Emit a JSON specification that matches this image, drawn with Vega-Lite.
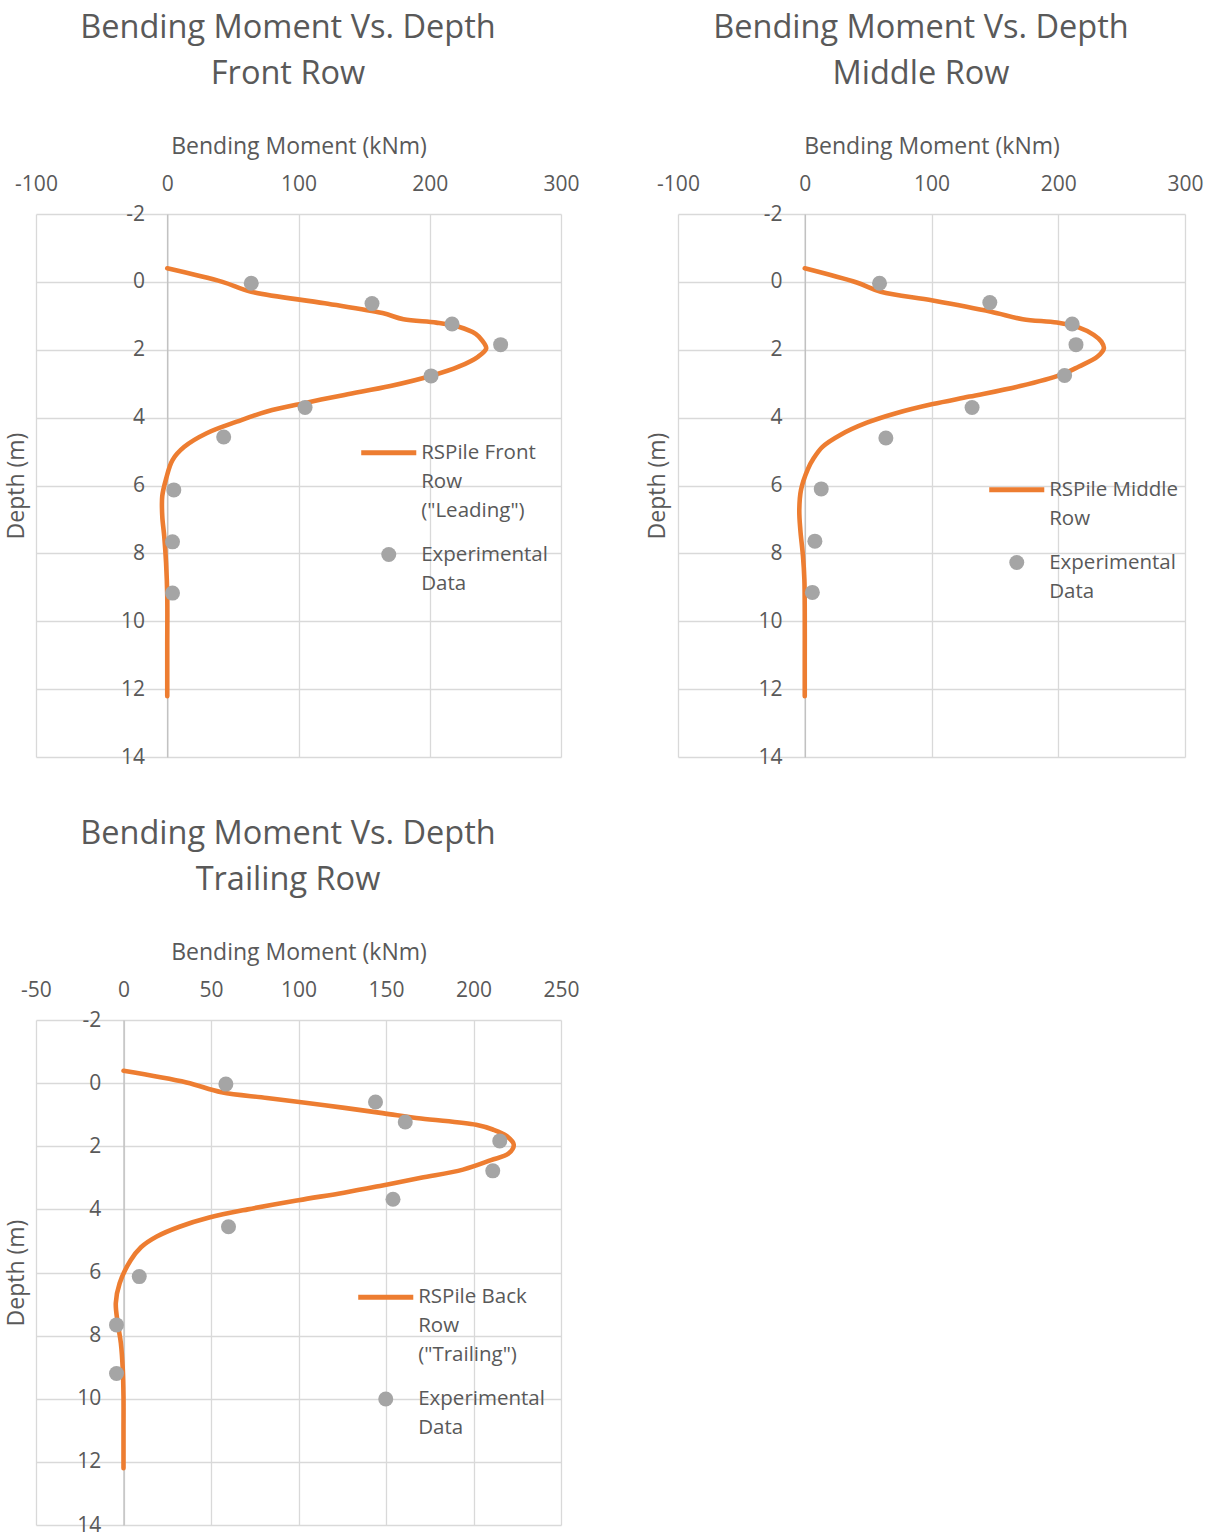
{
  "$schema": "https://vega.github.io/schema/vega-lite/v6.json",
  "background": "white",
  "padding": {"left": 5, "top": 11, "right": 0, "bottom": 0},
  "config": {
    "font": "Open Sans",
    "view": {"stroke": null},
    "axis": {
      "labelColor": "#595959",
      "titleColor": "#595959",
      "labelFontSize": 21,
      "titleFontSize": 23,
      "titleFontWeight": "normal",
      "gridColor": "#d9d9d9",
      "gridWidth": 1.3,
      "ticks": false,
      "tickSize": 0,
      "labelFlush": false,
      "labelOverlap": false,
      "labelExpr": "replace(datum.label, '\u2212', '-')"
    },
    "legend": {
      "labelColor": "#595959",
      "labelFontSize": 20.5,
      "padding": 0,
      "symbolOpacity": 1,
      "symbolStrokeWidth": 0,
      "symbolSize": 225
    },
    "title": {"color": "#595959", "fontSize": 32.5, "fontWeight": "normal", "lineHeight": 46}
  },
  "data": {
    "values": [
      {"row": "Front", "series": "RSPile Front Row (\"Leading\")", "depth": -0.4, "moment": 0},
      {"row": "Front", "series": "RSPile Front Row (\"Leading\")", "depth": 0.0, "moment": 42},
      {"row": "Front", "series": "RSPile Front Row (\"Leading\")", "depth": 0.29, "moment": 64},
      {"row": "Front", "series": "RSPile Front Row (\"Leading\")", "depth": 0.63, "moment": 120},
      {"row": "Front", "series": "RSPile Front Row (\"Leading\")", "depth": 0.92, "moment": 164},
      {"row": "Front", "series": "RSPile Front Row (\"Leading\")", "depth": 1.1, "moment": 180},
      {"row": "Front", "series": "RSPile Front Row (\"Leading\")", "depth": 1.2, "moment": 205},
      {"row": "Front", "series": "RSPile Front Row (\"Leading\")", "depth": 1.32, "moment": 222},
      {"row": "Front", "series": "RSPile Front Row (\"Leading\")", "depth": 1.53, "moment": 235},
      {"row": "Front", "series": "RSPile Front Row (\"Leading\")", "depth": 1.73, "moment": 240},
      {"row": "Front", "series": "RSPile Front Row (\"Leading\")", "depth": 1.96, "moment": 243},
      {"row": "Front", "series": "RSPile Front Row (\"Leading\")", "depth": 2.2, "moment": 237},
      {"row": "Front", "series": "RSPile Front Row (\"Leading\")", "depth": 2.5, "moment": 222},
      {"row": "Front", "series": "RSPile Front Row (\"Leading\")", "depth": 2.76, "moment": 202},
      {"row": "Front", "series": "RSPile Front Row (\"Leading\")", "depth": 3.07, "moment": 170},
      {"row": "Front", "series": "RSPile Front Row (\"Leading\")", "depth": 3.33, "moment": 135},
      {"row": "Front", "series": "RSPile Front Row (\"Leading\")", "depth": 3.56, "moment": 106},
      {"row": "Front", "series": "RSPile Front Row (\"Leading\")", "depth": 3.82, "moment": 76},
      {"row": "Front", "series": "RSPile Front Row (\"Leading\")", "depth": 4.12, "moment": 53},
      {"row": "Front", "series": "RSPile Front Row (\"Leading\")", "depth": 4.46, "moment": 30},
      {"row": "Front", "series": "RSPile Front Row (\"Leading\")", "depth": 4.86, "moment": 13},
      {"row": "Front", "series": "RSPile Front Row (\"Leading\")", "depth": 5.25, "moment": 4},
      {"row": "Front", "series": "RSPile Front Row (\"Leading\")", "depth": 5.82, "moment": -1},
      {"row": "Front", "series": "RSPile Front Row (\"Leading\")", "depth": 6.31, "moment": -3.8},
      {"row": "Front", "series": "RSPile Front Row (\"Leading\")", "depth": 6.9, "moment": -3.8},
      {"row": "Front", "series": "RSPile Front Row (\"Leading\")", "depth": 7.5, "moment": -2.3},
      {"row": "Front", "series": "RSPile Front Row (\"Leading\")", "depth": 8.28, "moment": -0.9},
      {"row": "Front", "series": "RSPile Front Row (\"Leading\")", "depth": 9.26, "moment": 0},
      {"row": "Front", "series": "RSPile Front Row (\"Leading\")", "depth": 10.74, "moment": 0},
      {"row": "Front", "series": "RSPile Front Row (\"Leading\")", "depth": 12.21, "moment": 0},
      {"row": "Front", "series": "Experimental Data", "depth": 0.04, "moment": 64},
      {"row": "Front", "series": "Experimental Data", "depth": 0.64, "moment": 156},
      {"row": "Front", "series": "Experimental Data", "depth": 1.24, "moment": 217},
      {"row": "Front", "series": "Experimental Data", "depth": 1.85, "moment": 254},
      {"row": "Front", "series": "Experimental Data", "depth": 2.77, "moment": 201},
      {"row": "Front", "series": "Experimental Data", "depth": 3.7, "moment": 105},
      {"row": "Front", "series": "Experimental Data", "depth": 4.57, "moment": 43},
      {"row": "Front", "series": "Experimental Data", "depth": 6.13, "moment": 5},
      {"row": "Front", "series": "Experimental Data", "depth": 7.66, "moment": 4},
      {"row": "Front", "series": "Experimental Data", "depth": 9.17, "moment": 4},

      {"row": "Middle", "series": "RSPile Middle Row", "depth": -0.4, "moment": 0},
      {"row": "Middle", "series": "RSPile Middle Row", "depth": 0.02, "moment": 41},
      {"row": "Middle", "series": "RSPile Middle Row", "depth": 0.29, "moment": 60},
      {"row": "Middle", "series": "RSPile Middle Row", "depth": 0.55, "moment": 101},
      {"row": "Middle", "series": "RSPile Middle Row", "depth": 0.88, "moment": 147},
      {"row": "Middle", "series": "RSPile Middle Row", "depth": 1.1, "moment": 172},
      {"row": "Middle", "series": "RSPile Middle Row", "depth": 1.2, "moment": 199},
      {"row": "Middle", "series": "RSPile Middle Row", "depth": 1.34, "moment": 216},
      {"row": "Middle", "series": "RSPile Middle Row", "depth": 1.56, "moment": 228},
      {"row": "Middle", "series": "RSPile Middle Row", "depth": 1.76, "moment": 234},
      {"row": "Middle", "series": "RSPile Middle Row", "depth": 1.96, "moment": 236},
      {"row": "Middle", "series": "RSPile Middle Row", "depth": 2.2, "moment": 231},
      {"row": "Middle", "series": "RSPile Middle Row", "depth": 2.5, "moment": 216},
      {"row": "Middle", "series": "RSPile Middle Row", "depth": 2.74, "moment": 202},
      {"row": "Middle", "series": "RSPile Middle Row", "depth": 3.07, "moment": 170},
      {"row": "Middle", "series": "RSPile Middle Row", "depth": 3.38, "moment": 130},
      {"row": "Middle", "series": "RSPile Middle Row", "depth": 3.6, "moment": 101},
      {"row": "Middle", "series": "RSPile Middle Row", "depth": 3.87, "moment": 72},
      {"row": "Middle", "series": "RSPile Middle Row", "depth": 4.15, "moment": 49},
      {"row": "Middle", "series": "RSPile Middle Row", "depth": 4.51, "moment": 28},
      {"row": "Middle", "series": "RSPile Middle Row", "depth": 4.86, "moment": 14},
      {"row": "Middle", "series": "RSPile Middle Row", "depth": 5.2, "moment": 7},
      {"row": "Middle", "series": "RSPile Middle Row", "depth": 5.53, "moment": 2.3},
      {"row": "Middle", "series": "RSPile Middle Row", "depth": 6.12, "moment": -2.9},
      {"row": "Middle", "series": "RSPile Middle Row", "depth": 6.71, "moment": -4.3},
      {"row": "Middle", "series": "RSPile Middle Row", "depth": 7.3, "moment": -3.5},
      {"row": "Middle", "series": "RSPile Middle Row", "depth": 8.08, "moment": -1.4},
      {"row": "Middle", "series": "RSPile Middle Row", "depth": 8.77, "moment": -0.3},
      {"row": "Middle", "series": "RSPile Middle Row", "depth": 9.75, "moment": 0},
      {"row": "Middle", "series": "RSPile Middle Row", "depth": 11.23, "moment": 0},
      {"row": "Middle", "series": "RSPile Middle Row", "depth": 12.21, "moment": 0},
      {"row": "Middle", "series": "Experimental Data", "depth": 0.04, "moment": 59},
      {"row": "Middle", "series": "Experimental Data", "depth": 0.61, "moment": 146},
      {"row": "Middle", "series": "Experimental Data", "depth": 1.24, "moment": 211},
      {"row": "Middle", "series": "Experimental Data", "depth": 1.85, "moment": 214},
      {"row": "Middle", "series": "Experimental Data", "depth": 2.76, "moment": 205},
      {"row": "Middle", "series": "Experimental Data", "depth": 3.7, "moment": 132},
      {"row": "Middle", "series": "Experimental Data", "depth": 4.6, "moment": 64},
      {"row": "Middle", "series": "Experimental Data", "depth": 6.1, "moment": 13},
      {"row": "Middle", "series": "Experimental Data", "depth": 7.64, "moment": 8},
      {"row": "Middle", "series": "Experimental Data", "depth": 9.15, "moment": 6},

      {"row": "Trailing", "series": "RSPile Back Row (\"Trailing\")", "depth": -0.39, "moment": 0},
      {"row": "Trailing", "series": "RSPile Back Row (\"Trailing\")", "depth": -0.02, "moment": 36},
      {"row": "Trailing", "series": "RSPile Back Row (\"Trailing\")", "depth": 0.29, "moment": 56},
      {"row": "Trailing", "series": "RSPile Back Row (\"Trailing\")", "depth": 0.47, "moment": 82},
      {"row": "Trailing", "series": "RSPile Back Row (\"Trailing\")", "depth": 0.7, "moment": 115},
      {"row": "Trailing", "series": "RSPile Back Row (\"Trailing\")", "depth": 0.95, "moment": 148},
      {"row": "Trailing", "series": "RSPile Back Row (\"Trailing\")", "depth": 1.12, "moment": 170},
      {"row": "Trailing", "series": "RSPile Back Row (\"Trailing\")", "depth": 1.32, "moment": 201.5},
      {"row": "Trailing", "series": "RSPile Back Row (\"Trailing\")", "depth": 1.47, "moment": 211},
      {"row": "Trailing", "series": "RSPile Back Row (\"Trailing\")", "depth": 1.68, "moment": 219},
      {"row": "Trailing", "series": "RSPile Back Row (\"Trailing\")", "depth": 1.95, "moment": 223},
      {"row": "Trailing", "series": "RSPile Back Row (\"Trailing\")", "depth": 2.23, "moment": 220},
      {"row": "Trailing", "series": "RSPile Back Row (\"Trailing\")", "depth": 2.44, "moment": 210},
      {"row": "Trailing", "series": "RSPile Back Row (\"Trailing\")", "depth": 2.74, "moment": 194},
      {"row": "Trailing", "series": "RSPile Back Row (\"Trailing\")", "depth": 3.0, "moment": 170},
      {"row": "Trailing", "series": "RSPile Back Row (\"Trailing\")", "depth": 3.24, "moment": 148},
      {"row": "Trailing", "series": "RSPile Back Row (\"Trailing\")", "depth": 3.47, "moment": 126},
      {"row": "Trailing", "series": "RSPile Back Row (\"Trailing\")", "depth": 3.71, "moment": 100},
      {"row": "Trailing", "series": "RSPile Back Row (\"Trailing\")", "depth": 4.0, "moment": 71},
      {"row": "Trailing", "series": "RSPile Back Row (\"Trailing\")", "depth": 4.26, "moment": 49},
      {"row": "Trailing", "series": "RSPile Back Row (\"Trailing\")", "depth": 4.55, "moment": 32},
      {"row": "Trailing", "series": "RSPile Back Row (\"Trailing\")", "depth": 4.86, "moment": 19},
      {"row": "Trailing", "series": "RSPile Back Row (\"Trailing\")", "depth": 5.2, "moment": 10},
      {"row": "Trailing", "series": "RSPile Back Row (\"Trailing\")", "depth": 5.62, "moment": 4},
      {"row": "Trailing", "series": "RSPile Back Row (\"Trailing\")", "depth": 6.34, "moment": -2.2},
      {"row": "Trailing", "series": "RSPile Back Row (\"Trailing\")", "depth": 6.97, "moment": -4.4},
      {"row": "Trailing", "series": "RSPile Back Row (\"Trailing\")", "depth": 7.6, "moment": -3.3},
      {"row": "Trailing", "series": "RSPile Back Row (\"Trailing\")", "depth": 8.24, "moment": -1.5},
      {"row": "Trailing", "series": "RSPile Back Row (\"Trailing\")", "depth": 9.08, "moment": -0.4},
      {"row": "Trailing", "series": "RSPile Back Row (\"Trailing\")", "depth": 9.93, "moment": 0},
      {"row": "Trailing", "series": "RSPile Back Row (\"Trailing\")", "depth": 10.98, "moment": 0},
      {"row": "Trailing", "series": "RSPile Back Row (\"Trailing\")", "depth": 12.2, "moment": 0},
      {"row": "Trailing", "series": "Experimental Data", "depth": 0.03, "moment": 58.5},
      {"row": "Trailing", "series": "Experimental Data", "depth": 0.6, "moment": 144},
      {"row": "Trailing", "series": "Experimental Data", "depth": 1.23, "moment": 161},
      {"row": "Trailing", "series": "Experimental Data", "depth": 1.83, "moment": 215},
      {"row": "Trailing", "series": "Experimental Data", "depth": 2.78, "moment": 211},
      {"row": "Trailing", "series": "Experimental Data", "depth": 3.68, "moment": 154},
      {"row": "Trailing", "series": "Experimental Data", "depth": 4.55, "moment": 60},
      {"row": "Trailing", "series": "Experimental Data", "depth": 6.13, "moment": 9},
      {"row": "Trailing", "series": "Experimental Data", "depth": 7.66, "moment": -4},
      {"row": "Trailing", "series": "Experimental Data", "depth": 9.2, "moment": -4}
    ]
  },
  "columns": 2,
  "spacing": {"row": 263, "column": 117},
  "bounds": "flush",
  "resolve": {"scale": {"color": "independent", "shape": "independent"}, "legend": {"color": "independent", "shape": "independent"}},
  "concat": [
    {
      "title": {"text": ["Bending Moment Vs. Depth", "Front Row"], "anchor": "middle", "frame": "group", "dx": -10.5, "offset": 45},
      "width": 525,
      "height": 543,
      "transform": [{"filter": "datum.row == 'Front'"}],
      "encoding": {
        "x": {"field": "moment", "type": "quantitative", "title": "Bending Moment (kNm)",
          "scale": {"domain": [-100, 300], "nice": false, "zero": false},
          "axis": {"orient": "top", "values": [-100, 0, 100, 200, 300], "domain": false, "labelPadding": 30, "labelBaseline": "middle", "titleY": -68, "titleBaseline": "middle"}},
        "y": {"field": "depth", "type": "quantitative", "title": "Depth (m)",
          "scale": {"domain": [-2, 14], "reverse": true, "nice": false, "zero": false},
          "axis": {"values": [-2, 0, 2, 4, 6, 8, 10, 12, 14], "offset": -131.25, "domain": true, "domainColor": "#bfbfbf", "domainWidth": 1.3, "labelPadding": 22.7, "titleX": -151, "titleBaseline": "middle"}}
      },
      "layer": [
        {
          "transform": [{"filter": "datum.series != 'Experimental Data'"}],
          "mark": {"type": "line", "color": "#ED7D31", "strokeWidth": 4.6, "interpolate": "catmull-rom", "strokeCap": "round", "strokeJoin": "round"},
          "encoding": {"order": {"field": "depth", "type": "quantitative"}}
        },
        {
          "transform": [{"filter": "datum.series == 'Experimental Data'"}],
          "mark": {"type": "point", "filled": true, "size": 225, "opacity": 1, "strokeWidth": 0},
          "encoding": {
            "color": {"field": "series", "type": "nominal",
              "scale": {"domain": ["RSPile Front Row (\"Leading\")", "Experimental Data"], "range": ["#ED7D31", "#A5A5A5"]},
              "legend": {"title": null, "orient": "none", "legendX": 342.5, "legendY": 228.5, "labelOffset": 22.2, "rowPadding": 22.8,
                "labelExpr": "datum.label == 'Experimental Data' ? ['Experimental', 'Data'] : ['RSPile Front', 'Row', '(\"Leading\")']",
                "encode": {"labels": {"update": {"lineHeight": {"value": 29}}}}}},
            "shape": {"field": "series", "type": "nominal",
              "scale": {"domain": ["RSPile Front Row (\"Leading\")", "Experimental Data"], "range": ["M-3.67,-0.33H3.67V0.33H-3.67Z", "circle"]},
              "legend": {"title": null, "orient": "none", "legendX": 342.5, "legendY": 228.5, "labelOffset": 22.2, "rowPadding": 22.8,
                "labelExpr": "datum.label == 'Experimental Data' ? ['Experimental', 'Data'] : ['RSPile Front', 'Row', '(\"Leading\")']",
                "encode": {"labels": {"update": {"lineHeight": {"value": 29}}}}}}
          }
        }
      ]
    },
    {
      "title": {"text": ["Bending Moment Vs. Depth", "Middle Row"], "anchor": "middle", "frame": "group", "dx": -10.5, "offset": 45},
      "width": 507,
      "height": 543,
      "transform": [{"filter": "datum.row == 'Middle'"}],
      "encoding": {
        "x": {"field": "moment", "type": "quantitative", "title": "Bending Moment (kNm)",
          "scale": {"domain": [-100, 300], "nice": false, "zero": false},
          "axis": {"orient": "top", "values": [-100, 0, 100, 200, 300], "domain": false, "labelPadding": 30, "labelBaseline": "middle", "titleY": -68, "titleBaseline": "middle"}},
        "y": {"field": "depth", "type": "quantitative", "title": "Depth (m)",
          "scale": {"domain": [-2, 14], "reverse": true, "nice": false, "zero": false},
          "axis": {"values": [-2, 0, 2, 4, 6, 8, 10, 12, 14], "offset": -126.75, "domain": true, "domainColor": "#bfbfbf", "domainWidth": 1.3, "labelPadding": 22.7, "titleX": -147, "titleBaseline": "middle"}}
      },
      "layer": [
        {
          "transform": [{"filter": "datum.series != 'Experimental Data'"}],
          "mark": {"type": "line", "color": "#ED7D31", "strokeWidth": 4.6, "interpolate": "catmull-rom", "strokeCap": "round", "strokeJoin": "round"},
          "encoding": {"order": {"field": "depth", "type": "quantitative"}}
        },
        {
          "transform": [{"filter": "datum.series == 'Experimental Data'"}],
          "mark": {"type": "point", "filled": true, "size": 225, "opacity": 1, "strokeWidth": 0},
          "encoding": {
            "color": {"field": "series", "type": "nominal",
              "scale": {"domain": ["RSPile Middle Row", "Experimental Data"], "range": ["#ED7D31", "#A5A5A5"]},
              "legend": {"title": null, "orient": "none", "legendX": 328.5, "legendY": 265.5, "labelOffset": 22.2, "rowPadding": 22.8,
                "labelExpr": "datum.label == 'Experimental Data' ? ['Experimental', 'Data'] : ['RSPile Middle', 'Row']",
                "encode": {"labels": {"update": {"lineHeight": {"value": 29}}}}}},
            "shape": {"field": "series", "type": "nominal",
              "scale": {"domain": ["RSPile Middle Row", "Experimental Data"], "range": ["M-3.67,-0.33H3.67V0.33H-3.67Z", "circle"]},
              "legend": {"title": null, "orient": "none", "legendX": 328.5, "legendY": 265.5, "labelOffset": 22.2, "rowPadding": 22.8,
                "labelExpr": "datum.label == 'Experimental Data' ? ['Experimental', 'Data'] : ['RSPile Middle', 'Row']",
                "encode": {"labels": {"update": {"lineHeight": {"value": 29}}}}}}
          }
        }
      ]
    },
    {
      "title": {"text": ["Bending Moment Vs. Depth", "Trailing Row"], "anchor": "middle", "frame": "group", "dx": -10.5, "offset": 45},
      "width": 525,
      "height": 505,
      "transform": [{"filter": "datum.row == 'Trailing'"}],
      "encoding": {
        "x": {"field": "moment", "type": "quantitative", "title": "Bending Moment (kNm)",
          "scale": {"domain": [-50, 250], "nice": false, "zero": false},
          "axis": {"orient": "top", "values": [-50, 0, 50, 100, 150, 200, 250], "domain": false, "labelPadding": 30, "labelBaseline": "middle", "titleY": -68, "titleBaseline": "middle"}},
        "y": {"field": "depth", "type": "quantitative", "title": "Depth (m)",
          "scale": {"domain": [-2, 14], "reverse": true, "nice": false, "zero": false},
          "axis": {"values": [-2, 0, 2, 4, 6, 8, 10, 12, 14], "offset": -87.5, "domain": true, "domainColor": "#bfbfbf", "domainWidth": 1.3, "labelPadding": 22.7, "titleX": -107, "titleBaseline": "middle"}}
      },
      "layer": [
        {
          "transform": [{"filter": "datum.series != 'Experimental Data'"}],
          "mark": {"type": "line", "color": "#ED7D31", "strokeWidth": 4.6, "interpolate": "catmull-rom", "strokeCap": "round", "strokeJoin": "round"},
          "encoding": {"order": {"field": "depth", "type": "quantitative"}}
        },
        {
          "transform": [{"filter": "datum.series == 'Experimental Data'"}],
          "mark": {"type": "point", "filled": true, "size": 225, "opacity": 1, "strokeWidth": 0},
          "encoding": {
            "color": {"field": "series", "type": "nominal",
              "scale": {"domain": ["RSPile Back Row (\"Trailing\")", "Experimental Data"], "range": ["#ED7D31", "#A5A5A5"]},
              "legend": {"title": null, "orient": "none", "legendX": 339.5, "legendY": 267, "labelOffset": 22.2, "rowPadding": 22.8,
                "labelExpr": "datum.label == 'Experimental Data' ? ['Experimental', 'Data'] : ['RSPile Back', 'Row', '(\"Trailing\")']",
                "encode": {"labels": {"update": {"lineHeight": {"value": 29}}}}}},
            "shape": {"field": "series", "type": "nominal",
              "scale": {"domain": ["RSPile Back Row (\"Trailing\")", "Experimental Data"], "range": ["M-3.67,-0.33H3.67V0.33H-3.67Z", "circle"]},
              "legend": {"title": null, "orient": "none", "legendX": 339.5, "legendY": 267, "labelOffset": 22.2, "rowPadding": 22.8,
                "labelExpr": "datum.label == 'Experimental Data' ? ['Experimental', 'Data'] : ['RSPile Back', 'Row', '(\"Trailing\")']",
                "encode": {"labels": {"update": {"lineHeight": {"value": 29}}}}}}
          }
        }
      ]
    }
  ]
}
